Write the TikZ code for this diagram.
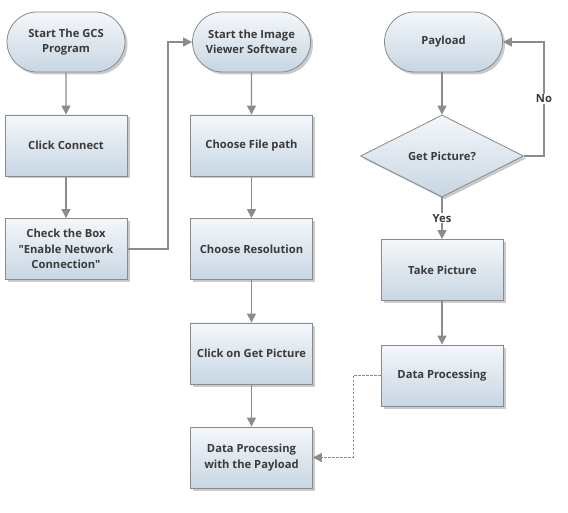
\documentclass[tikz,border=0pt]{standalone}
\usepackage{fontspec}
\setmainfont{Open Sans}
\usetikzlibrary{shapes.misc,shapes.geometric,arrows.meta,shadows}
\definecolor{txt}{HTML}{3A3A3A}
\definecolor{edge}{HTML}{8A8A8A}
\definecolor{ln}{HTML}{8C8C8C}
\definecolor{topc}{HTML}{F4F7FA}
\definecolor{botc}{HTML}{C7D6E3}
\tikzset{
  x=1pt,y=-1pt,
  base/.style={draw=edge, line width=0.8pt, top color=topc, bottom color=botc,
    text=txt, font=\fontsize{11.2}{15.5}\selectfont\bfseries, align=center,
    drop shadow={shadow xshift=2.5pt, shadow yshift=-2.5pt, fill=black!35, opacity=0.6}},
  procbox/.style={base, rectangle, minimum width=122pt, minimum height=61pt, inner sep=2pt},
  termbox/.style={base, rounded rectangle, minimum width=122pt, minimum height=60pt, inner sep=2pt},
  decbox/.style={base, diamond, minimum width=163pt, minimum height=82pt, inner sep=0pt, aspect=2},
  flow/.style={draw=ln, line width=1.1pt, -{Triangle[length=9pt,width=9pt]}},
  dflow/.style={draw=ln, line width=0.8pt, dashed, dash pattern=on 2.5pt off 1.5pt, -{Triangle[length=9pt,width=9pt]}},
  lbl/.style={text=txt, font=\fontsize{11.2}{13}\selectfont\bfseries, fill=white, inner sep=1pt}
}
\begin{document}
\begin{tikzpicture}
\useasboundingbox (0,0) rectangle (568,513);
% column 1
\node[termbox] (gcs) at (66,42) {Start The GCS\\Program};
\node[procbox] (conn) at (66,145.5) {Click Connect};
\node[procbox] (check) at (66,249) {Check the Box\\\textquotedbl Enable Network\\Connection\textquotedbl};
% column 2
\node[termbox] (viewer) at (251.5,42) {Start the Image\\Viewer Software};
\node[procbox] (file) at (251.5,145.5) {Choose File path};
\node[procbox] (res) at (251.5,249) {Choose Resolution};
\node[procbox] (getpic) at (251.5,353.5) {Click on Get Picture};
\node[procbox] (dpp) at (251.5,457.5) {Data Processing\\with the Payload};
% column 3
\node[termbox] (payload) at (443.5,42) {Payload};
\node[decbox] (q) at (442,156) {Get Picture?};
\node[procbox] (take) at (442.5,270) {Take Picture};
\node[procbox] (dp) at (442,375.5) {Data Processing};
% connectors
\draw[flow] (gcs) -- (conn);
\draw[flow] (conn) -- (check);
\coordinate (c1a) at (168,249);
\coordinate (c1b) at (168,42);
\draw[flow] (check.east) -- (c1a) -- (c1b) -- (viewer.west);
\draw[flow] (viewer) -- (file);
\draw[flow] (file) -- (res);
\draw[flow] (res) -- (getpic);
\draw[flow] (getpic) -- (dpp);
\draw[flow] (payload.south -| q.north) -- (q.north);
\coordinate (n1) at (544,156);
\coordinate (n2) at (544,42);
\draw[flow] (q.east) -- (n1) -- node[lbl, pos=0.5] {No} (n2) -- (payload.east);
\draw[flow] (q.south) -- node[lbl, pos=0.5] {Yes} (take.north -| q.south);
\draw[flow] (take.south -| dp.north) -- (dp.north);
\coordinate (d1) at (353,375.5);
\coordinate (d2) at (353,457.5);
\draw[dflow] (dp.west) -- (d1) -- (d2) -- (dpp.east);
\end{tikzpicture}
\end{document}
